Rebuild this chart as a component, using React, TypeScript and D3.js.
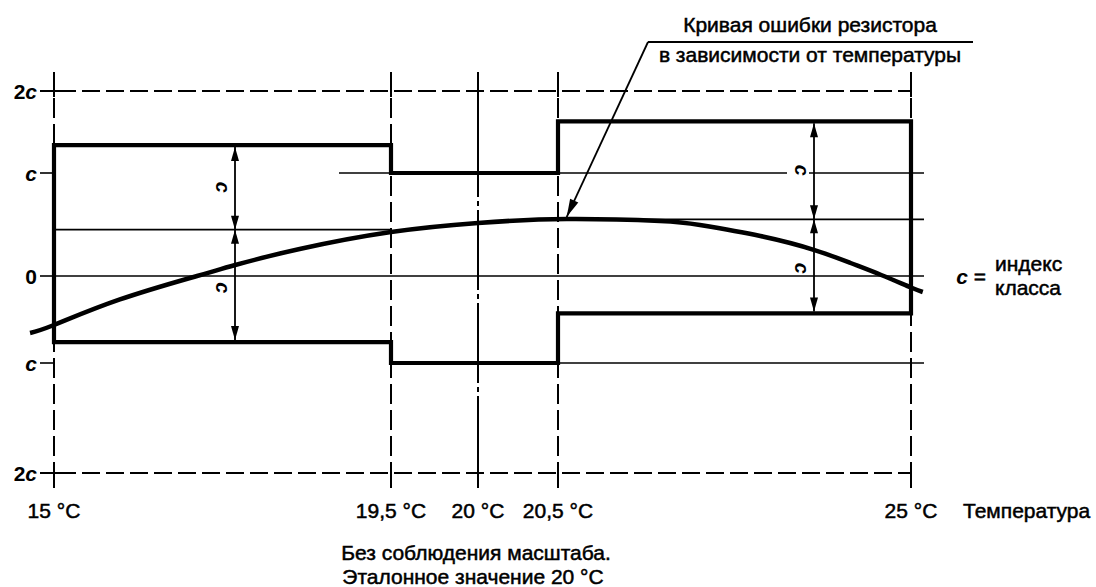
import React from "react";
import * as d3 from "d3";

// ---- data ----
const tempTicks = [15, 19.5, 20, 20.5, 25];
const tempLabels = ["15 °C", "19,5 °C", "20 °C", "20,5 °C", "25 °C"];
const errorTicks = [2, 1, 0, -1, -2];
const errorLabels = ["2", "", "0", "", "2"]; // numeric prefix; italic c appended where needed
const errorHasC = [true, true, false, true, true];

// tolerance limit steps (start temp, end temp, value in units of c, drawing not to scale)
const upperStart = [15, 19.5, 20.5];
const upperEnd = [19.5, 20.5, 25];
const upperValue = [1.34, 1.0, 1.63];
const lowerValue = [-0.76, -1.0, -0.43];
const midValue = [0.45, 0.55]; // reference mid lines for the left and right tolerance bands

// resistor error curve (temperature °C, error in units of c)
const curveTemp = [14.68, 15, 15.88, 16.91, 17.42, 18.28, 19.5, 20, 20.61, 21.8, 22.31, 23.08, 23.77, 24.23, 24.62, 25, 25.15];
const curveErr = [-0.655, -0.563, -0.27, 0, 0.107, 0.262, 0.427, 0.515, 0.553, 0.534, 0.495, 0.388, 0.252, 0.126, 0.01, -0.132, -0.184];
const peakIndex = 8;

const W = 1096;
const H = 587;

const x = d3.scaleLinear().domain(tempTicks).range([54, 391, 478, 558, 911]);
const y = d3.scaleLinear().domain(errorTicks).range([91, 173, 276, 363, 473]);

const FONT = "'Liberation Sans', Arial, Helvetica, sans-serif";
const FS = 21;
const TXT = { fontSize: FS, stroke: "#000", strokeWidth: 0.5 };

function arrowHead(tx: number, ty: number, fx: number, fy: number, len = 14, hw = 4) {
  const dx = tx - fx;
  const dy = ty - fy;
  const d = Math.hypot(dx, dy);
  const ux = dx / d;
  const uy = dy / d;
  const bx = tx - ux * len;
  const by = ty - uy * len;
  return `M${tx},${ty}L${bx - uy * hw},${by + ux * hw}L${bx + uy * hw},${by - ux * hw}Z`;
}

function CLabel({ cx, cy }: { cx: number; cy: number }) {
  return (
    <text
      x={0}
      y={0}
      transform={`translate(${cx},${cy}) rotate(90)`}
      textAnchor="middle"
      dominantBaseline="central"
      fontStyle="italic"
      fontWeight="bold"
      fontSize={20}
    >
      c
    </text>
  );
}

export default function App() {
  const x0 = x(15);
  const x25 = x(25);
  const yTop = y(2) - 19;
  const yBot = y(-2) + 15;
  const rightEnd = x25 + 13;

  // closed tolerance outline
  const outline: [number, number][] = [];
  outline.push([x(upperStart[0]), y(lowerValue[0])]);
  upperStart.forEach((s, i) => {
    outline.push([x(s), y(upperValue[i])]);
    outline.push([x(upperEnd[i]), y(upperValue[i])]);
  });
  for (let i = upperStart.length - 1; i >= 0; i--) {
    outline.push([x(upperEnd[i]), y(lowerValue[i])]);
    outline.push([x(upperStart[i]), y(lowerValue[i])]);
  }
  const outlinePath = d3.line()(outline) + "Z";

  const curvePts: [number, number][] = curveTemp.map((t, i) => [x(t), y(curveErr[i])]);
  const curvePath = d3.line().curve(d3.curveNatural)(curvePts) || "";

  const peak = curvePts[peakIndex];
  const leaderStart: [number, number] = [648, 42];

  const leftArrowX = 235;
  const rightArrowX = 814;
  const bandArrows = [
    { ax: leftArrowX, top: y(upperValue[0]), mid: y(midValue[0]), bot: y(lowerValue[0]) },
    { ax: rightArrowX, top: y(upperValue[2]), mid: y(midValue[1]), bot: y(lowerValue[2]) },
  ];

  return (
    <svg
      width={W}
      height={H}
      style={{ position: "absolute", left: 0, top: 0, background: "#fff" }}
      fontFamily={FONT}
    >
      <rect width={W} height={H} fill="#fff" />

      {/* vertical reference lines */}
      {tempTicks.map((t) =>
        t === 20 ? (
          <line key={t} x1={x(t)} x2={x(t)} y1={yTop + 3} y2={yBot} stroke="#000" strokeWidth={2} strokeDasharray="122 4 5 4 80 4 5 4 80 4 5 4 80 4 5 4 80" />
        ) : (
          <line key={t} x1={x(t)} x2={x(t)} y1={yTop} y2={yBot} stroke="#000" strokeWidth={2} strokeDasharray="20 6" strokeDashoffset={-26} />
        )
      )}
      {tempTicks.map((t) => (
        <g key={"c" + t}>
          <line x1={x(t)} x2={x(t)} y1={yTop} y2={y(2) + 6} stroke="#000" strokeWidth={2} />
          <line x1={x(t)} x2={x(t)} y1={yBot - 22} y2={yBot} stroke="#000" strokeWidth={2} />
        </g>
      ))}

      {/* ±2c dashed lines */}
      {[2, -2].map((v) => (
        <g key={v}>
          <line x1={x0 - 14} x2={x0 + 6} y1={y(v)} y2={y(v)} stroke="#000" strokeWidth={2} />
          <line x1={x0} x2={x25} y1={y(v)} y2={y(v)} stroke="#000" strokeWidth={2} strokeDasharray="18 6" strokeDashoffset={-4} />
        </g>
      ))}

      {/* y ticks */}
      {[1, 0, -1].map((v) => (
        <line key={v} x1={x0 - 14} x2={x0} y1={y(v)} y2={y(v)} stroke="#000" strokeWidth={1.6} />
      ))}

      {/* thin reference lines */}
      <line x1={x0} x2={rightEnd} y1={y(0)} y2={y(0)} stroke="#000" strokeWidth={1.6} />
      <line x1={339} x2={rightEnd} y1={y(1)} y2={y(1)} stroke="#000" strokeWidth={1.6} />
      <line x1={x(20.5)} x2={rightEnd} y1={y(-1)} y2={y(-1)} stroke="#000" strokeWidth={1.6} />
      <line x1={x0} x2={x(19.5)} y1={y(midValue[0])} y2={y(midValue[0])} stroke="#000" strokeWidth={1.6} />
      <line x1={530} x2={rightEnd} y1={y(midValue[1])} y2={y(midValue[1])} stroke="#000" strokeWidth={1.6} />

      {/* tolerance outline */}
      <path d={outlinePath} fill="none" stroke="#000" strokeWidth={4.2} strokeLinejoin="miter" />

      {/* band arrows */}
      {bandArrows.map((b, i) => (
        <g key={i}>
          <line x1={b.ax} x2={b.ax} y1={b.top + 2} y2={b.bot - 2} stroke="#000" strokeWidth={1.8} />
          <path d={arrowHead(b.ax, b.top + 2, b.ax, b.mid)} fill="#000" />
          <path d={arrowHead(b.ax, b.mid, b.ax, b.top)} fill="#000" />
          <path d={arrowHead(b.ax, b.mid, b.ax, b.bot)} fill="#000" />
          <path d={arrowHead(b.ax, b.bot - 2, b.ax, b.mid)} fill="#000" />
          {i === 1 && <rect x={b.ax - 27} y={y(1) - 4} width={22} height={8} fill="#fff" />}
          <CLabel cx={b.ax - 12} cy={(b.top + b.mid) / 2} />
          <CLabel cx={b.ax - 12} cy={(b.mid + b.bot) / 2 + 2} />
        </g>
      ))}

      {/* error curve */}
      <path d={curvePath} fill="none" stroke="#000" strokeWidth={4.5} strokeLinecap="butt" />

      {/* annotation leader */}
      <line x1={leaderStart[0]} y1={leaderStart[1]} x2={peak[0]} y2={peak[1] - 2} stroke="#000" strokeWidth={1.8} />
      <path d={arrowHead(peak[0], peak[1] - 2, leaderStart[0], leaderStart[1], 18, 4.5)} fill="#000" />
      <line x1={leaderStart[0]} x2={973} y1={leaderStart[1]} y2={leaderStart[1]} stroke="#000" strokeWidth={1.8} />
      <text x={810} y={32} textAnchor="middle" {...TXT}>Кривая ошибки резистора</text>
      <text x={810} y={62} textAnchor="middle" {...TXT}>в зависимости от температуры</text>

      {/* y labels */}
      {errorTicks.map((v, i) => (
        <text key={v} x={37} y={y(v) + 7.5} textAnchor="end" fontSize={FS} fontWeight="bold">
          {errorLabels[i]}
          {errorHasC[i] && <tspan fontStyle="italic">c</tspan>}
        </text>
      ))}

      {/* x labels */}
      {tempTicks.map((t, i) => (
        <text key={t} x={x(t)} y={517.5} textAnchor="middle" {...TXT}>
          {tempLabels[i]}
        </text>
      ))}
      <text x={963} y={517.5} {...TXT}>Температура</text>

      {/* legend c = индекс класса */}
      <text x={986} y={284} textAnchor="end" fontSize={FS}>
        <tspan fontStyle="italic" fontWeight="bold">c</tspan>
        <tspan stroke="#000" strokeWidth={0.5}> =</tspan>
      </text>
      <text x={995} y={271} {...TXT}>индекс</text>
      <text x={995} y={295} {...TXT}>класса</text>

      {/* notes */}
      <text x={476} y={560} textAnchor="middle" {...TXT}>Без соблюдения масштаба.</text>
      <text x={473} y={584} textAnchor="middle" {...TXT}>Эталонное значение 20 °C</text>
    </svg>
  );
}
